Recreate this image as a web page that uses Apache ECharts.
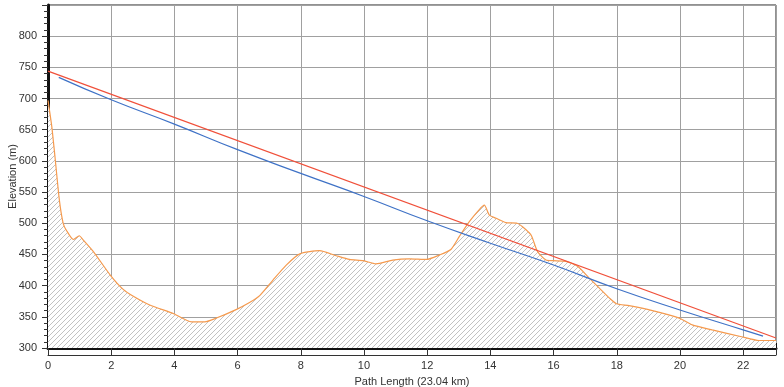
<!DOCTYPE html>
<html lang="en" style="height: 100%">
<head>
  <meta charset="utf-8">
</head>
<body style="height: 100%; margin: 0; background: #fff">
  <div id="container" style="width: 784px; height: 387px"></div>

  <script type="text/javascript" src="https://fastly.jsdelivr.net/npm/echarts@6/dist/echarts.min.js"></script>
  <script type="text/javascript">
// terrain profile (km, m)
var terrainDist = [0, 0.12, 0.22, 0.36, 0.48, 0.59, 0.8, 0.99, 1.12, 1.43, 1.97, 2.38, 2.7, 3.22, 3.98, 4.54, 4.96, 5.33, 5.97, 6.35, 6.7, 7.12, 7.54, 7.97, 8.59, 9.12, 9.54, 9.98, 10.38, 10.91, 11.43, 11.98, 12.38, 12.75, 13.02, 13.34, 13.65, 13.81, 13.97, 14.18, 14.49, 14.85, 15.12, 15.3, 15.49, 15.76, 15.98, 16.39, 16.76, 17.13, 17.45, 17.77, 17.99, 18.39, 19.13, 19.98, 20.39, 21.02, 21.95, 22.5, 23.04];
var terrainElev = [697, 655, 607, 537, 500, 488, 474, 480, 473, 455, 417, 394, 383, 369, 355, 342, 342, 348, 362, 372, 384, 409, 433, 451, 456, 448, 442, 440, 435, 441, 443, 442, 449, 458, 479, 503, 522, 529, 513, 508, 501, 500, 490, 480, 455, 441, 440, 439, 431, 412, 396, 380, 371, 368, 360, 348, 337, 329, 318, 312, 312];
// line of sight (red)
var losDist = [0, 23.04];
var losElev = [744, 316];
// blue path line
var pathDist = [0.34, 2, 4, 6, 8, 10, 12, 14, 16, 18, 20, 22, 22.63];
var pathElev = [734, 698, 659, 618, 580, 543, 504, 468, 433, 395, 361, 329, 319];

function pairs(xs, ys) {
  return xs.map(function (x, i) { return [x, ys[i]]; });
}

// diagonal hatch
var hatch = document.createElement('canvas');
hatch.width = 5;
hatch.height = 5;
var hc = hatch.getContext('2d');
hc.fillStyle = '#ffffff';
hc.fillRect(0, 0, 5, 5);
hc.strokeStyle = '#b2b2b2';
hc.lineWidth = 0.8;
hc.beginPath();
hc.moveTo(-1, 6); hc.lineTo(6, -1);
hc.moveTo(-1, 1); hc.lineTo(1, -1);
hc.moveTo(4, 6); hc.lineTo(6, 4);
hc.stroke();

var myChart = echarts.init(document.getElementById('container'), null, { renderer: 'canvas' });

var font = 'Liberation Sans';
var option = {
  animation: false,
  backgroundColor: '#ffffff',
  grid: {
    left: 48, right: 8, top: 5, bottom: 39,
    containLabel: false, outerBoundsMode: 'none',
    show: true, borderColor: '#222', borderWidth: 1
  },
  xAxis: [
    {
      type: 'value',
      min: 0, max: 23.04, interval: 2,
      name: 'Path Length (23.04 km)',
      nameLocation: 'middle',
      nameGap: 28,
      nameMoveOverlap: false,
      nameTextStyle: { fontFamily: font, fontSize: 11, color: '#333' },
      axisLine: { show: true, onZero: false, lineStyle: { color: '#111', width: 3 } },
      axisTick: { show: true, inside: true, length: 5, lineStyle: { color: '#111' } },
      minorTick: { show: true, splitNumber: 10, length: 4, lineStyle: { color: '#111' } },
      axisLabel: { showMaxLabel: false, margin: 12, fontFamily: font, fontSize: 11, color: '#333' },
      splitLine: { show: true, lineStyle: { color: '#a0a0a0', width: 1 } }
    },
    {
      // scale bar under the axis
      type: 'value',
      position: 'bottom',
      offset: 7,
      min: 0, max: 23.04, interval: 2,
      axisLine: { show: true, onZero: false, lineStyle: { color: '#333', width: 1 } },
      axisTick: { show: true, inside: true, length: 7, lineStyle: { color: '#333' } },
      axisLabel: { show: false },
      splitLine: { show: false }
    }
  ],
  yAxis: {
    type: 'value',
    min: 300, max: 850, interval: 50,
    name: 'Elevation (m)',
    nameLocation: 'middle',
    nameGap: 30,
    nameMoveOverlap: false,
    nameTextStyle: { fontFamily: font, fontSize: 11, color: '#333' },
    axisLine: { show: true, onZero: false, lineStyle: { color: '#111', width: 3 } },
    axisTick: { show: true, length: 6, lineStyle: { color: '#333' } },
    minorTick: { show: true, splitNumber: 5, length: 4, lineStyle: { color: '#333' } },
    axisLabel: { showMaxLabel: false, margin: 11, fontFamily: font, fontSize: 11, color: '#333' },
    splitLine: { show: true, lineStyle: { color: '#a0a0a0', width: 1 } }
  },
  series: [
    {
      name: 'Terrain',
      type: 'line',
      data: pairs(terrainDist, terrainElev),
      symbol: 'none',
      smooth: 0.2,
      lineStyle: { color: '#f59a4e', width: 1.2 },
      areaStyle: { color: { image: hatch, repeat: 'repeat' }, opacity: 1, origin: 'start' },
      z: 2
    },
    {
      name: 'Path',
      type: 'line',
      data: pairs(pathDist, pathElev),
      symbol: 'none',
      smooth: true,
      lineStyle: { color: '#3f72c6', width: 1.2 },
      z: 3
    },
    {
      name: 'LOS',
      type: 'line',
      xAxisIndex: 1,
      data: pairs(losDist, losElev),
      symbol: 'none',
      lineStyle: { color: '#f0503a', width: 1.2 },
      z: 4
    }
  ]
};

myChart.setOption(option);
window.addEventListener('resize', myChart.resize);
  </script>
</body>
</html>
